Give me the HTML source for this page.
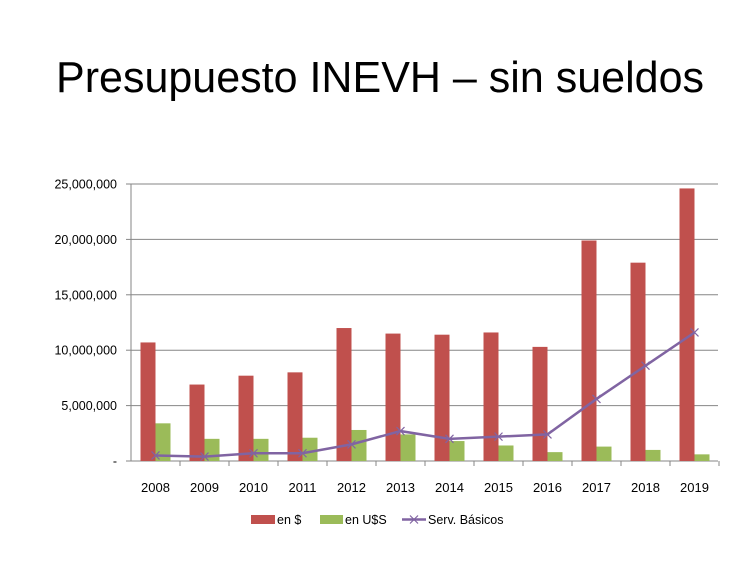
<!DOCTYPE html>
<html><head><meta charset="utf-8"><style>
html,body{margin:0;padding:0;background:#fff;}
svg{display:block;font-family:"Liberation Sans",sans-serif;}
</style></head><body>
<svg id="s" width="754" height="569" xmlns="http://www.w3.org/2000/svg">
<text x="380" y="92" font-size="44" text-anchor="middle" textLength="648" lengthAdjust="spacingAndGlyphs" fill="#000">Presupuesto INEVH – sin sueldos</text>
<g id="g"></g>
</svg>
<script>
var red=[10.7,6.9,7.7,8.0,12.0,11.5,11.4,11.6,10.3,19.9,17.9,24.6];
var grn=[3.4,2.0,2.0,2.1,2.8,2.4,1.8,1.4,0.8,1.3,1.0,0.6];
var ln=[0.5,0.4,0.7,0.7,1.5,2.7,2.0,2.2,2.4,5.6,8.6,11.6];
var X0=131,W=49,Y0=461,S=11.08,h='';
function y(v){return Y0-v*S;}
var labs=['-','5,000,000','10,000,000','15,000,000','20,000,000','25,000,000'];
for(var i=0;i<=5;i++){var yy=y(i*5);
 if(i>0)h+='<line x1="'+X0+'" x2="718" y1="'+yy+'" y2="'+yy+'" stroke="#868686" stroke-width="1"/>';
 h+='<line x1="126" x2="'+X0+'" y1="'+yy+'" y2="'+yy+'" stroke="#868686"/>';
 h+='<text x="117" y="'+(yy+4.5)+'" font-size="12.5" text-anchor="end">'+labs[i]+'</text>';}
h+='<line x1="'+X0+'" x2="'+X0+'" y1="184" y2="'+Y0+'" stroke="#868686"/>';
h+='<line x1="'+X0+'" x2="718" y1="'+Y0+'" y2="'+Y0+'" stroke="#868686"/>';
var pts=[];
for(var i=0;i<12;i++){var c=X0+W*i+W/2;
 h+='<rect x="'+(c-15)+'" y="'+y(red[i])+'" width="15" height="'+(red[i]*S)+'" fill="#c0504d"/>';
 h+='<rect x="'+c+'" y="'+y(grn[i])+'" width="15" height="'+(grn[i]*S)+'" fill="#9bbb59"/>';
 h+='<line x1="'+(X0+W*(i+1))+'" x2="'+(X0+W*(i+1))+'" y1="'+Y0+'" y2="'+(Y0+5)+'" stroke="#868686"/>';
 h+='<text x="'+c+'" y="492" font-size="13" text-anchor="middle">'+(2008+i)+'</text>';
 pts.push(c+','+y(ln[i]));}
h+='<polyline points="'+pts.join(' ')+'" fill="none" stroke="#8064a2" stroke-width="2.5"/>';
for(var i=0;i<12;i++){var c=X0+W*i+W/2,yy=y(ln[i]);
 h+='<path d="M'+(c-4)+' '+(yy-4)+'L'+(c+4)+' '+(yy+4)+'M'+(c-4)+' '+(yy+4)+'L'+(c+4)+' '+(yy-4)+'" stroke="#8064a2" stroke-width="1.2"/>';}
h+='<rect x="251" y="515" width="24" height="9" fill="#c0504d"/><text x="277" y="524" font-size="12.5">en $</text>';
h+='<rect x="320" y="515" width="23" height="9" fill="#9bbb59"/><text x="345" y="524" font-size="12.5">en U$S</text>';
h+='<line x1="402" x2="426" y1="519.5" y2="519.5" stroke="#8064a2" stroke-width="2.5"/><path d="M410 515.5L418 523.5M410 523.5L418 515.5" stroke="#8064a2" stroke-width="1.2"/><text x="428" y="524" font-size="12.5">Serv. Básicos</text>';
document.getElementById('g').innerHTML=h;
</script>
</body></html>
